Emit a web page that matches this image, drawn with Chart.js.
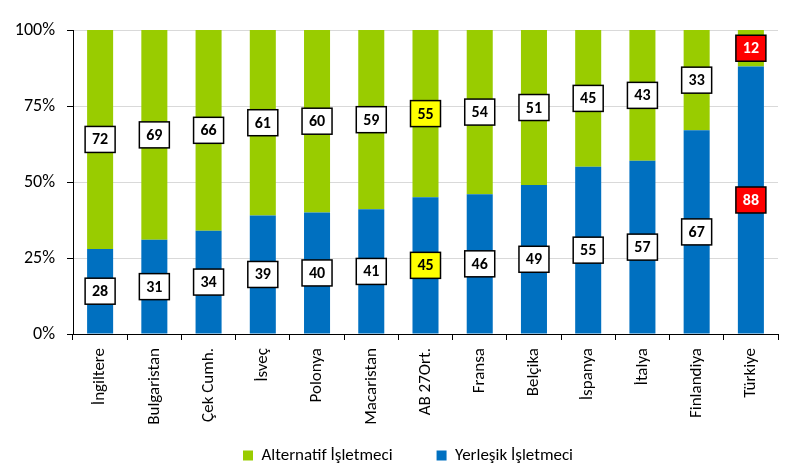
<!DOCTYPE html>
<html>
<head>
<meta charset="utf-8">
<script src="https://cdn.jsdelivr.net/npm/chart.js@4"></script>
<style>
  html, body { margin: 0; padding: 0; background: #fff; }
  #wrap { width: 789px; height: 474px; }
</style>
</head>
<body>
<div id="wrap"><canvas id="myChart" width="789" height="474"></canvas></div>
<script>
const categories = ['İngiltere', 'Bulgaristan', 'Çek Cumh.', 'İsveç', 'Polonya', 'Macaristan',
  'AB 27Ort.', 'Fransa', 'Belçika', 'İspanya', 'İtalya', 'Finlandiya', 'Türkiye'];
const yerlesik = [28, 31, 34, 39, 40, 41, 45, 46, 49, 55, 57, 67, 88];
const alternatif = [72, 69, 66, 61, 60, 59, 55, 54, 51, 45, 43, 33, 12];
const yTicks = [0, 25, 50, 75, 100];

const fontFamily = "Carlito, Lato, 'Open Sans', sans-serif";

// label boxes in the middle of each segment
const boxLabels = {
  id: 'boxLabels',
  afterLayout(chart) {
    // let the axis labels draw outside their fitted boxes
    chart.scales.x.bottom = chart.height;
    chart.scales.y.left = 0;
  },
  afterDatasetsDraw(chart) {
    const c = chart.ctx;
    chart.data.datasets.forEach((ds, di) => {
      const meta = chart.getDatasetMeta(di);
      meta.data.forEach((bar, i) => {
        const cy = (bar.y + bar.base) / 2;
        let fill = '#ffffff', txt = '#000000';
        if (categories[i] === 'AB 27Ort.') fill = '#ffff00';
        if (categories[i] === 'Türkiye') { fill = '#ff0000'; txt = '#ffffff'; }
        c.save();
        c.fillStyle = fill;
        c.strokeStyle = '#000';
        c.lineWidth = 1.5;
        c.fillRect(bar.x - 15, cy - 13, 30, 26);
        c.strokeRect(bar.x - 15, cy - 13, 30, 26);
        c.fillStyle = txt;
        c.font = 'bold 16px ' + fontFamily;
        c.textAlign = 'center';
        c.textBaseline = 'middle';
        c.fillText(ds.data[i], bar.x, cy + 1);
        c.restore();
      });
    });
  }
};

new Chart(document.querySelector('#myChart'), {
  type: 'bar',
  data: {
    labels: categories,
    datasets: [
      { label: 'Yerleşik İşletmeci', data: yerlesik, backgroundColor: '#0070c0' },
      { label: 'Alternatif İşletmeci', data: alternatif, backgroundColor: '#99cc00' }
    ]
  },
  options: {
    responsive: false,
    animation: false,
    layout: { padding: { top: 30, right: 11, left: 38, bottom: 0 } },
    datasets: { bar: { barPercentage: 0.48, categoryPercentage: 1 } },
    plugins: {
      tooltip: { enabled: false },
      legend: {
        position: 'bottom',
        reverse: true,
        labels: {
          boxWidth: 10, boxHeight: 10, padding: 44, color: '#000',
          font: { family: fontFamily, size: 17 }
        }
      }
    },
    scales: {
      x: {
        stacked: true,
        afterFit: s => { s.height = 69; },
        grid: { drawOnChartArea: false, tickColor: '#000', tickLength: 6 },
        border: { color: '#000', width: 1 },
        ticks: {
          minRotation: 90, maxRotation: 90, padding: 8, color: '#000',
          font: { family: fontFamily, size: 17 }
        }
      },
      y: {
        stacked: true,
        min: 0, max: 100,
        afterFit: s => { s.width = 35; },
        afterBuildTicks: s => { s.ticks = yTicks.map(v => ({ value: v })); },
        grid: { color: '#d9d9d9', tickColor: '#000', tickLength: 6 },
        border: { color: '#000', width: 1 },
        ticks: {
          padding: 12, color: '#000',
          font: { family: fontFamily, size: 18 },
          callback: v => v + '%'
        }
      }
    }
  },
  plugins: [boxLabels]
});
</script>
</body>
</html>
